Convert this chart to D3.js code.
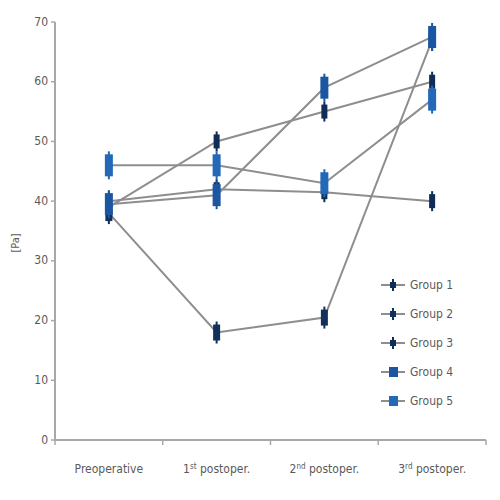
<!DOCTYPE html>
<html>
<head>
<meta charset="utf-8">
<script src="https://cdn.jsdelivr.net/npm/d3@7"></script>
<style>
  body { margin: 0; background: #fff; }
  text { font-family: 'DejaVu Sans Condensed', 'Liberation Sans Narrow', sans-serif; fill: #5a5a5a; }
</style>
</head>
<body>
<svg id="chart" width="500" height="500"></svg>
<script>
// Categories and series
const categories = ['Preoperative', '1st postoper.', '2nd postoper.', '3rd postoper.']
const ordinals = [null, ['1', 'st'], ['2', 'nd'], ['3', 'rd']]
const groupNames = ['Group 1', 'Group 2', 'Group 3', 'Group 4', 'Group 5']
const group1 = [40, 42, 41.5, 40]
const group2 = [38, 18, 20.5, 67]
const group3 = [39, 50, 55, 60]
const group4 = [39.5, 41, 59, 67.5]
const group5 = [46, 46, 43, 57]
const yTicks = [0, 10, 20, 30, 40, 50, 60, 70]

const series = [group1, group2, group3, group4, group5]

// Marker styles: dark small markers for 1-3, blue boxes for 4-5
const markerStyle = [
  { fill: '#0f2d55', w: 6, h: 14 },
  { fill: '#12305c', w: 7, h: 16 },
  { fill: '#0f2d55', w: 6, h: 14 },
  { fill: '#1d56a0', w: 8, h: 22 },
  { fill: '#2468b8', w: 8, h: 22 },
]

const svg = d3.select('#chart')
const margin = { left: 55, right: 14, top: 22, bottom: 60 }
const W = 500, H = 500

const x = d3.scaleBand()
  .domain(categories)
  .range([margin.left, W - margin.right])

const y = d3.scaleLinear()
  .domain([0, 70])
  .range([H - margin.bottom, margin.top])

const axisColor = '#a8a8a8'

// Y axis
svg.append('line')
  .attr('x1', margin.left).attr('x2', margin.left)
  .attr('y1', y(70)).attr('y2', y(0))
  .attr('stroke', axisColor).attr('stroke-width', 2)

yTicks.forEach(t => {
  svg.append('line')
    .attr('x1', margin.left - 4).attr('x2', margin.left)
    .attr('y1', y(t)).attr('y2', y(t))
    .attr('stroke', axisColor).attr('stroke-width', 1.5)
  svg.append('text')
    .attr('x', margin.left - 7).attr('y', y(t))
    .attr('text-anchor', 'end')
    .attr('dominant-baseline', 'middle')
    .style('font-size', '12px')
    .text(t)
})

svg.append('text')
  .attr('transform', `translate(19, ${y(33)}) rotate(-90)`)
  .attr('text-anchor', 'middle')
  .style('font-size', '11px')
  .text('[Pa]')

// X axis
svg.append('line')
  .attr('x1', margin.left).attr('x2', W - margin.right)
  .attr('y1', y(0)).attr('y2', y(0))
  .attr('stroke', axisColor).attr('stroke-width', 2)

const bounds = categories.map(c => x(c)).concat([x.range()[1]])
bounds.forEach(b => {
  svg.append('line')
    .attr('x1', b).attr('x2', b)
    .attr('y1', y(0)).attr('y2', y(0) + 5)
    .attr('stroke', axisColor).attr('stroke-width', 1.5)
})

categories.forEach((c, i) => {
  const t = svg.append('text')
    .attr('x', x(c) + x.bandwidth() / 2)
    .attr('y', y(0) + 33)
    .attr('text-anchor', 'middle')
    .style('font-size', '12px')
  if (ordinals[i]) {
    t.append('tspan').text(ordinals[i][0])
    t.append('tspan').attr('baseline-shift', 'super').style('font-size', '8px').text(ordinals[i][1])
    t.append('tspan').text(' ' + c.split(' ')[1])
  } else {
    t.text(c)
  }
})

const cx = c => x(c) + x.bandwidth() / 2

// Lines
const line = d3.line()
  .x((d, i) => cx(categories[i]))
  .y(d => y(d))

series.forEach(s => {
  svg.append('path')
    .datum(s)
    .attr('d', line)
    .attr('fill', 'none')
    .attr('stroke', '#8e8e8e')
    .attr('stroke-width', 2)
})

function drawMarker(g, px, py, st) {
  g.append('line')
    .attr('x1', px).attr('x2', px)
    .attr('y1', py - st.h / 2 - 3).attr('y2', py + st.h / 2 + 3)
    .attr('stroke', st.fill).attr('stroke-width', 2)
  g.append('rect')
    .attr('x', px - st.w / 2).attr('y', py - st.h / 2)
    .attr('width', st.w).attr('height', st.h)
    .attr('fill', st.fill)
}

// Markers
series.forEach((s, gi) => {
  const g = svg.append('g')
  s.forEach((v, i) => drawMarker(g, cx(categories[i]), y(v), markerStyle[gi]))
})

// Legend
const legX = 381, legY = 285, legStep = 29
groupNames.forEach((name, i) => {
  const ly = legY + i * legStep
  svg.append('line')
    .attr('x1', legX).attr('x2', legX + 24)
    .attr('y1', ly).attr('y2', ly)
    .attr('stroke', '#8e8e8e').attr('stroke-width', 2)
  const st = markerStyle[i]
  const g = svg.append('g')
  if (i < 3) {
    g.append('line').attr('x1', legX + 12).attr('x2', legX + 12)
      .attr('y1', ly - 6).attr('y2', ly + 6)
      .attr('stroke', st.fill).attr('stroke-width', 2)
    g.append('rect').attr('x', legX + 9).attr('y', ly - 3)
      .attr('width', 6).attr('height', 6).attr('fill', st.fill)
  } else {
    g.append('rect').attr('x', legX + 8).attr('y', ly - 5)
      .attr('width', 9).attr('height', 10).attr('fill', st.fill)
  }
  svg.append('text')
    .attr('x', legX + 29).attr('y', ly)
    .attr('dominant-baseline', 'middle')
    .style('font-size', '12px')
    .text(name)
})
</script>
</body>
</html>
